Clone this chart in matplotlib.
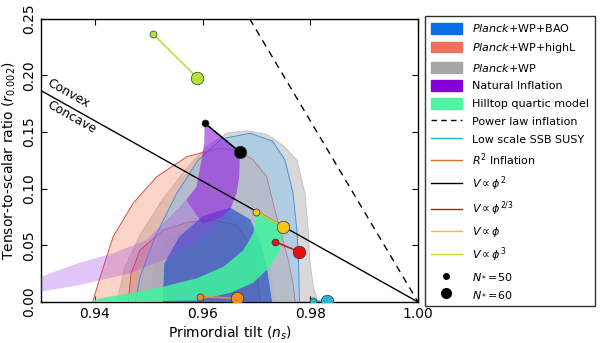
import matplotlib
matplotlib.use("Agg")
import matplotlib.pyplot as plt
from matplotlib.patches import Patch
from matplotlib.lines import Line2D

# contour outlines (ns, r)
wp95_ns = [0.9441, 0.9455, 0.9485, 0.9525, 0.9570, 0.9610, 0.9645, 0.9682, 0.9720, 0.9750,
           0.9775, 0.9790, 0.9796, 0.9799, 0.9806, 0.9812, 0.9806]
wp95_r = [0.0, 0.030, 0.060, 0.090, 0.118, 0.138, 0.149, 0.1513, 0.148, 0.138,
          0.1254, 0.0960, 0.0636, 0.0371, 0.012, 0.004, 0.0]
wp68_ns = [0.9500, 0.9510, 0.9540, 0.9590, 0.9640, 0.9680, 0.9710, 0.9728, 0.9738]
wp68_r = [0.0, 0.035, 0.058, 0.074, 0.079, 0.072, 0.052, 0.028, 0.0]

hl95_ns = [0.9396, 0.9410, 0.9434, 0.9471, 0.9515, 0.9571, 0.9632, 0.9669, 0.9694, 0.9719,
           0.9731, 0.9744, 0.9759, 0.9768, 0.9772]
hl95_r = [0.0, 0.0224, 0.0577, 0.0872, 0.1107, 0.1284, 0.1358, 0.1330, 0.1254, 0.1107,
          0.0872, 0.0636, 0.0371, 0.0165, 0.0]
hl68_ns = [0.9462, 0.9467, 0.9484, 0.9527, 0.9577, 0.9620, 0.9663, 0.9688, 0.9700, 0.9707]
hl68_r = [0.0, 0.025, 0.0459, 0.0636, 0.0709, 0.0724, 0.0680, 0.0518, 0.0283, 0.0]

bao95_ns = [0.9475, 0.9484, 0.9512, 0.9552, 0.9592, 0.9635, 0.9688, 0.9730, 0.9753, 0.9768,
            0.9775, 0.9778, 0.9780]
bao95_r = [0.0, 0.0224, 0.0577, 0.0960, 0.1254, 0.1440, 0.1490, 0.1420, 0.1254, 0.0960,
           0.0636, 0.0371, 0.0]
bao68_ns = [0.9527, 0.9530, 0.9558, 0.9601, 0.9651, 0.9688, 0.9707, 0.9719, 0.9728]
bao68_r = [0.0, 0.0342, 0.0577, 0.0754, 0.0828, 0.0724, 0.0518, 0.0283, 0.0]

# natural inflation band
nat_ns = [0.9604, 0.9603, 0.9598, 0.9589, 0.9558, 0.9527, 0.9496, 0.9434, 0.9372, 0.9300,
          0.9300, 0.9372, 0.9465, 0.9527, 0.9577, 0.9620, 0.9651, 0.9663, 0.9668, 0.9669]
nat_r = [0.158, 0.1402, 0.1254, 0.1019, 0.0842, 0.0695, 0.0548, 0.0430, 0.0347, 0.0224,
         0.0091, 0.0150, 0.0253, 0.0371, 0.0489, 0.0636, 0.0813, 0.0960, 0.1107, 0.1325]
# denser top part of the band
nat_top_ns = [0.9604, 0.9603, 0.9598, 0.9589, 0.9570, 0.9600, 0.9635, 0.9651, 0.9663, 0.9668, 0.9669]
nat_top_r = [0.158, 0.1402, 0.1254, 0.1019, 0.0900, 0.0690, 0.0750, 0.0813, 0.0960, 0.1107, 0.1325]

# hilltop quartic band
hill_ns = [0.9700, 0.9694, 0.9676, 0.9639, 0.9589, 0.9527, 0.9465, 0.9410, 0.9390,
           0.9434, 0.9496, 0.9589, 0.9651, 0.9694, 0.9725, 0.9744, 0.9751]
hill_r = [0.0798, 0.0607, 0.0459, 0.0312, 0.0209, 0.0135, 0.0077, 0.0033, 0.0,
          0.0, 0.0005, 0.0015, 0.008, 0.017, 0.031, 0.046, 0.0665]

# model predictions, N*=50 then N*=60
phi3_ns, phi3_r = [0.9508, 0.9590], [0.2367, 0.198]
phi2_ns, phi2_r = [0.9604, 0.9669], [0.158, 0.1325]
phi1_ns, phi1_r = [0.9700, 0.9750], [0.0798, 0.0665]
phi23_ns, phi23_r = [0.9734, 0.9779], [0.0533, 0.0444]
r2_ns, r2_r = [0.9595, 0.9663], [0.0047, 0.0033]
susy_ns, susy_r = [0.9805, 0.9831], [0.0012, 0.0012]

powerlaw_ns, powerlaw_r = [0.96875, 1.0], [0.25, 0.0]
convex_ns, convex_r = [0.93, 1.0], [0.18667, 0.0]

fig = plt.figure(figsize=(6, 3.43), dpi=100)
ax = fig.add_axes([0.0683, 0.1195, 0.6284, 0.8255])


def region(ns, r, face, edge, alpha, z):
    ax.fill(ns, r, facecolor=face, alpha=alpha, edgecolor="none", zorder=z)
    ax.plot(ns, r, color=edge, lw=0.7, zorder=z + 0.1)


region(wp95_ns, wp95_r, "#d8d8d8", "#c4c4c4", 1.0, 1)
region(wp68_ns, wp68_r, "#b4b4b4", "#d4d4d4", 0.4, 2)
region(hl95_ns, hl95_r, "#f2906c", "#e05050", 0.38, 3)
region(hl68_ns, hl68_r, "#d86050", "#e04848", 0.28, 4)
region(bao95_ns, bao95_r, "#7cc0f0", "#4a90e0", 0.42, 5)
region(bao68_ns, bao68_r, "#1444c4", "#4070d0", 0.6, 6)

ax.fill(nat_ns, nat_r, facecolor="#a040e8", alpha=0.3, edgecolor="none", zorder=7)
ax.fill(nat_top_ns, nat_top_r, facecolor="#8a10dc", alpha=0.42, edgecolor="none", zorder=7)
ax.fill(hill_ns, hill_r, facecolor="#3ef59e", alpha=0.85, edgecolor="none", zorder=8)

ax.plot(powerlaw_ns, powerlaw_r, color="k", ls=(0, (5, 4)), lw=1, zorder=9)
ax.plot(convex_ns, convex_r, color="k", lw=1, zorder=9)

models = [
    (phi3_ns, phi3_r, "#b4e43a"),
    (phi2_ns, phi2_r, "black"),
    (phi1_ns, phi1_r, "#f5c61c"),
    (phi23_ns, phi23_r, "#e41010"),
    (r2_ns, r2_r, "#f28a1e"),
    (susy_ns, susy_r, "#28b4d2"),
]
for ns, r, c in models:
    ax.plot(ns, r, color=c, lw=1.2, zorder=10)
    ax.plot(ns[0], r[0], "o", ms=5, color=c, mec="#333333", mew=0.5, zorder=11)
    ax.plot(ns[1], r[1], "o", ms=9, color=c, mec="#333333", mew=0.5, zorder=11)

ax.text(0.9350, 0.1838, "Convex", rotation=-29.4, rotation_mode="anchor",
        ha="center", va="center", fontsize=9, zorder=12)
ax.text(0.9357, 0.1634, "Concave", rotation=-29.4, rotation_mode="anchor",
        ha="center", va="center", fontsize=9, zorder=12)

ax.set_xlim(0.93, 1.0)
ax.set_ylim(0.0, 0.25)
ax.set_xticks([0.94, 0.96, 0.98, 1.00])
ax.set_xticklabels(["0.94", "0.96", "0.98", "1.00"])
ax.set_yticks([0.0, 0.05, 0.10, 0.15, 0.20, 0.25])
ax.set_yticklabels(["0.00", "0.05", "0.10", "0.15", "0.20", "0.25"], rotation=90, va="center")
ax.tick_params(direction="in", top=True, right=True, labelsize=10, length=4)
ax.set_xlabel(r"Primordial tilt ($n_s$)", fontsize=10, labelpad=3)
ax.set_ylabel(r"Tensor-to-scalar ratio ($r_{0.002}$)", fontsize=10, labelpad=3)
for s in ax.spines.values():
    s.set_linewidth(1.0)

handles = [
    Patch(color="#0a6ee8", label=r"$\it{Planck}$+WP+BAO"),
    Patch(color="#f0705e", label=r"$\it{Planck}$+WP+highL"),
    Patch(color="#a6a6a6", label=r"$\it{Planck}$+WP"),
    Patch(color="#8800d8", label="Natural Inflation"),
    Patch(color="#50f5a2", label="Hilltop quartic model"),
    Line2D([], [], color="k", ls=(0, (4, 3)), lw=1, label="Power law inflation"),
    Line2D([], [], color="#28b4d2", lw=1, label="Low scale SSB SUSY"),
    Line2D([], [], color="#e07020", lw=1, label=r"$R^2$ Inflation"),
    Line2D([], [], color="black", lw=1, label=r"$V\propto\phi^2$"),
    Line2D([], [], color="#d01010", lw=1, label=r"$V\propto\phi^{2/3}$"),
    Line2D([], [], color="#f0c020", lw=1, label=r"$V\propto\phi$"),
    Line2D([], [], color="#c0e040", lw=1, label=r"$V\propto\phi^3$"),
    Line2D([], [], color="k", marker="o", ls="none", ms=4, label=r"$N_*\!=\!50$"),
    Line2D([], [], color="k", marker="o", ls="none", ms=7, label=r"$N_*\!=\!60$"),
]
leg = fig.legend(handles=handles, loc="upper left", bbox_to_anchor=(0.708, 0.953),
                 fontsize=8, frameon=True, fancybox=False, edgecolor="black",
                 handlelength=2.8, handleheight=1.1, handletextpad=0.9, labelspacing=0.6,
                 borderpad=0.55, borderaxespad=0.0)
leg.get_frame().set_linewidth(1.0)

fig.savefig("out.png", dpi=100)
